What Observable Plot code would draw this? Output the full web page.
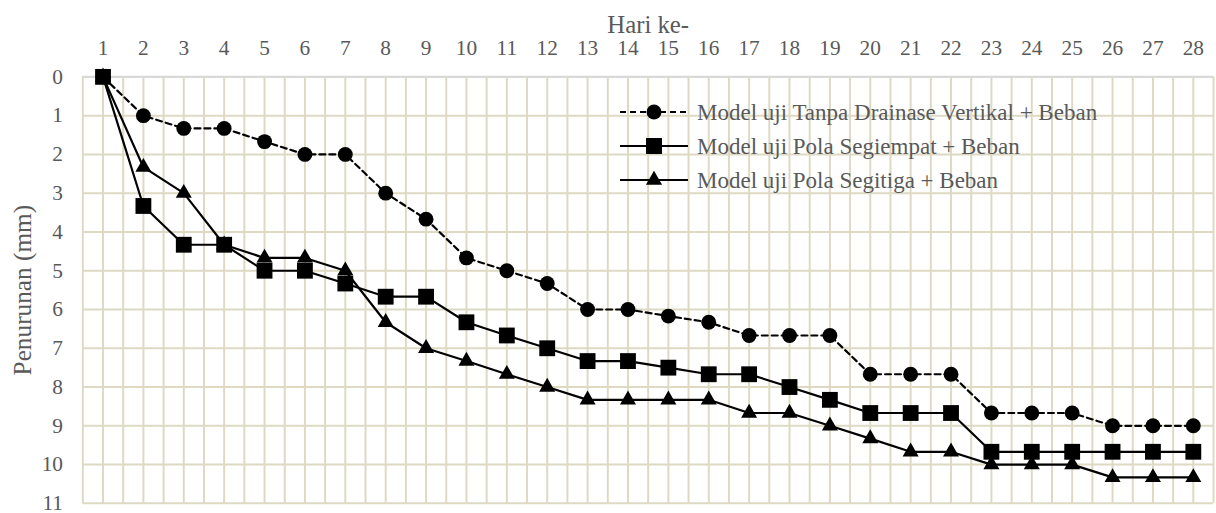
<!DOCTYPE html>
<html><head><meta charset="utf-8">
<script src="https://cdn.jsdelivr.net/npm/d3@7"></script>
<script src="https://cdn.jsdelivr.net/npm/@observablehq/plot@0.6"></script>
<style>
html,body{margin:0;padding:0;overflow:hidden;background:#fff;width:1216px;height:513px}
#wrap{position:relative;width:1216px;height:513px;overflow:hidden}
#legend{position:absolute;left:0;top:0;pointer-events:none}
#wrap svg text{font-family:"Liberation Serif","DejaVu Serif",serif}
</style></head><body><div id="wrap"></div>
<script>
const days = [1,2,3,4,5,6,7,8,9,10,11,12,13,14,15,16,17,18,19,20,21,22,23,24,25,26,27,28];
const yTicks = [0,1,2,3,4,5,6,7,8,9,10,11];
const seriesNames = [
  "Model uji Tanpa Drainase Vertikal + Beban",
  "Model uji Pola Segiempat + Beban",
  "Model uji Pola Segitiga + Beban"
];
const tanpa = [0,1,1.33,1.33,1.67,2,2,3,3.67,4.67,5,5.33,6,6,6.17,6.33,6.67,6.67,6.67,7.67,7.67,7.67,8.67,8.67,8.67,9,9,9];
const segiempat = [0,3.33,4.33,4.33,5,5,5.33,5.67,5.67,6.33,6.67,7,7.33,7.33,7.5,7.67,7.67,8,8.33,8.67,8.67,8.67,9.67,9.67,9.67,9.67,9.67,9.67];
const segitiga = [0,2.33,3,4.33,4.67,4.67,5,6.33,7,7.33,7.67,8,8.33,8.33,8.33,8.33,8.67,8.67,9,9.33,9.67,9.67,10,10,10,10.33,10.33,10.33];

const valuesList = [tanpa, segiempat, segitiga];
const styles = [
  {symbol: "circle", r: 7.5, dash: "6,4"},
  {symbol: "square", r: 9, dash: null},
  {symbol: "triangle", r: 6, dash: null}
];
const rows = [];
valuesList.forEach((vals, s) => vals.forEach((v, i) => rows.push({series: seriesNames[s], day: days[i], value: v})));

const gridColor = "#ddd9c3";
const gridX = [];
days.forEach(d => { gridX.push(d - 0.5); gridX.push(d); });
gridX.push(days[days.length - 1] + 0.5);

const seriesMarks = [];
seriesNames.forEach((name, s) => {
  const data = rows.filter(r => r.series === name);
  seriesMarks.push(Plot.line(data, {x: "day", y: "value", stroke: "black", strokeWidth: 2.2, strokeDasharray: styles[s].dash}));
});
seriesNames.forEach((name, s) => {
  const data = rows.filter(r => r.series === name);
  seriesMarks.push(Plot.dot(data, {x: "day", y: "value", symbol: styles[s].symbol, r: styles[s].r, fill: "black", stroke: "none"}));
});

const chart = Plot.plot({
  width: 1226, height: 513,
  marginTop: 77, marginBottom: 6, marginLeft: 83, marginRight: 3,
  style: {fontFamily: "Liberation Serif, DejaVu Serif, serif", fontSize: "21.5px", color: "#595959", background: "white", overflow: "visible"},
  x: {domain: [0.5, 28.5], axis: null},
  y: {domain: [0, 11], reverse: true, axis: null},
  marks: [
    Plot.ruleX(gridX, {stroke: gridColor, strokeWidth: 2}),
    Plot.ruleY(yTicks, {stroke: gridColor, strokeWidth: 2}),
    Plot.ruleY([0], {stroke: "#d9d9d9", strokeWidth: 2.5}),
    Plot.axisX(days, {anchor: "top", tickSize: 0, tickPadding: 22, label: null}),
    Plot.axisY(yTicks, {anchor: "left", tickSize: 0, tickPadding: 20, label: null}),
    Plot.text(["Hari ke-"], {frameAnchor: "top", dy: -44, lineAnchor: "bottom", textAnchor: "middle", fontSize: 25, fill: "#595959"}),
    Plot.text(["Penurunan (mm)"], {frameAnchor: "left", dx: -60, rotate: -90, textAnchor: "middle", lineAnchor: "middle", fontSize: 25.5, fill: "#595959"}),
    ...seriesMarks
  ]
});
document.getElementById("wrap").appendChild(chart);

// Legend (inside plot area, as in the original)
const lg = d3.select("#wrap").append("svg").attr("id", "legend").attr("width", 1216).attr("height", 513);
const symMap = {circle: d3.symbolCircle, square: d3.symbolSquare, triangle: d3.symbolTriangle};
const legendRowsY = [112, 146, 180];
seriesNames.forEach((name, s) => {
  const g = lg.append("g").attr("transform", `translate(0,${legendRowsY[s]})`);
  g.append("line").attr("x1", 620).attr("x2", 688).attr("y1", 0).attr("y2", 0)
    .attr("stroke", "black").attr("stroke-width", 2.2).attr("stroke-dasharray", styles[s].dash);
  g.append("path").attr("transform", "translate(654,0)")
    .attr("d", d3.symbol(symMap[styles[s].symbol], Math.PI * styles[s].r * styles[s].r)()).attr("fill", "black");
  g.append("text").attr("x", 697).attr("y", 0).attr("dy", "0.33em")
    .attr("font-size", 23)
    .attr("fill", "#595959").text(name);
});
</script></body></html>
